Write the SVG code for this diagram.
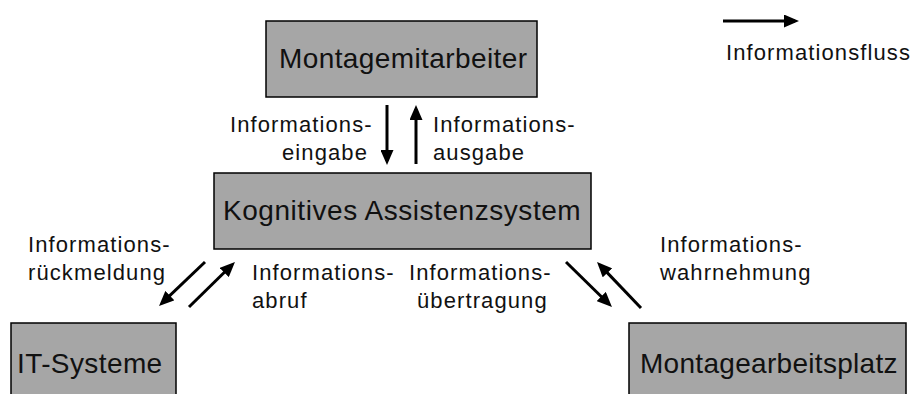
<svg xmlns="http://www.w3.org/2000/svg" width="912" height="394" viewBox="0 0 912 394">
<style>
.box{fill:#a6a6a6;stroke:#000;stroke-width:1.5}
.big{font-family:"Liberation Sans",Arial,sans-serif;font-size:28px;fill:#111;letter-spacing:0.4px}
.lbl{font-family:"Liberation Sans",Arial,sans-serif;font-size:22px;fill:#111;letter-spacing:1.1px}
.arr{stroke:#000;stroke-width:3;fill:none;marker-end:url(#ah)}
</style>
<defs>
<marker id="ah" markerUnits="userSpaceOnUse" markerWidth="15" markerHeight="13" refX="11" refY="6.5" orient="auto">
<path d="M0,0 L15,6.5 L0,13 z" fill="#000"/>
</marker>
</defs>
<rect width="912" height="394" fill="#fff"/>
<g id="montagemitarbeiter">
<rect class="box" x="266" y="21" width="271" height="76"/>
<text class="big" x="279" y="68">Montagemitarbeiter</text>
</g>
<g id="assistenzsystem">
<rect class="box" x="214" y="173" width="377" height="76"/>
<text class="big" x="223" y="220" style="letter-spacing:0.55px">Kognitives Assistenzsystem</text>
</g>
<g id="it-systeme">
<rect class="box" x="11" y="323" width="165" height="80"/>
<text class="big" x="17" y="373">IT-Systeme</text>
</g>
<g id="montagearbeitsplatz">
<rect class="box" x="629" y="323" width="277" height="80"/>
<text class="big" x="640" y="373" style="letter-spacing:0.3px">Montagearbeitsplatz</text>
</g>
<g id="legende">
<line class="arr" x1="723" y1="21" x2="795" y2="21"/>
<text class="lbl" x="726" y="60">Informationsfluss</text>
</g>
<g id="connectors">
<line class="arr" x1="387" y1="105" x2="387" y2="161"/>
<line class="arr" x1="416" y1="164" x2="416" y2="109"/>
<line class="arr" x1="205" y1="262" x2="161.9" y2="303.2"/>
<line class="arr" x1="189" y1="307" x2="232.1" y2="264.8"/>
<line class="arr" x1="566" y1="262" x2="609.1" y2="304.2"/>
<line class="arr" x1="641" y1="308" x2="599.8" y2="264.9"/>
</g>
<g id="labels">
<text class="lbl" x="230" y="132">Informations-</text>
<text class="lbl" x="282" y="160">eingabe</text>
<text class="lbl" x="433" y="132">Informations-</text>
<text class="lbl" x="433" y="160">ausgabe</text>
<text class="lbl" x="28" y="252">Informations-</text>
<text class="lbl" x="28" y="280">rückmeldung</text>
<text class="lbl" x="252" y="280">Informations-</text>
<text class="lbl" x="252" y="308">abruf</text>
<text class="lbl" x="409" y="280">Informations-</text>
<text class="lbl" x="417" y="308">übertragung</text>
<text class="lbl" x="660" y="252">Informations-</text>
<text class="lbl" x="660" y="280">wahrnehmung</text>
</g>
</svg>
